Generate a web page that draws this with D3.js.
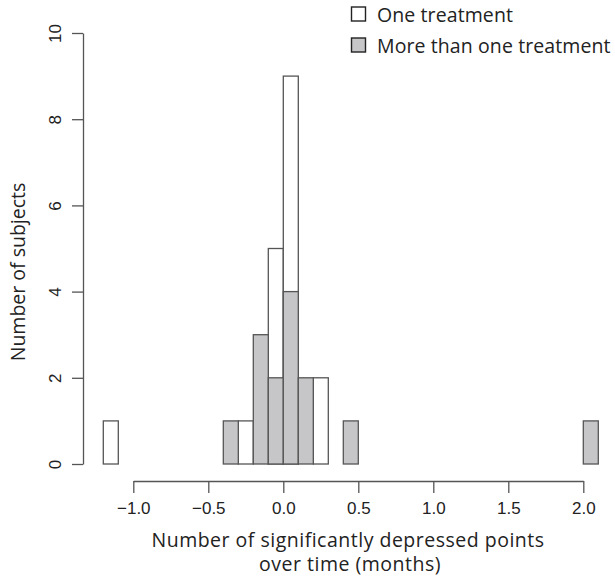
<!DOCTYPE html>
<html><head><meta charset="utf-8">
<script src="https://cdn.jsdelivr.net/npm/d3@7"></script>
<style>body{margin:0;background:#fff}svg{display:block}</style>
</head><body>
<script>
// Bin lower edges (width 0.1), counts per series
const binStarts = d3.range(33).map(i => Math.round((-1.2 + i*0.1)*10)/10);
const oneTreatment = [1,0,0,0,0,0,0,0,0,1,0,5,9,0,2,0,0,0,0,0,0,0,0,0,0,0,0,0,0,0,0,0,0];
const moreTreatment = [0,0,0,0,0,0,0,0,1,0,3,2,4,2,0,0,1,0,0,0,0,0,0,0,0,0,0,0,0,0,0,0,1];
const binWidth = 0.1;
const xTicks = [-1.0,-0.5,0.0,0.5,1.0,1.5,2.0];
const yTicks = [0,2,4,6,8,10];
const legendLabels = ["One treatment","More than one treatment"];

const W=615,H=576;
const svg=d3.select("body").append("svg").attr("width",W).attr("height",H);
const x=d3.scaleLinear().domain([-1,2]).range([133.3,583.3]);
const y=d3.scaleLinear().domain([0,10]).range([464,33]);
const stroke="#555", grayFill="#c6c6c9";
const labelFont="'Open Sans', 'Noto Sans', sans-serif";
const tickFont="'Liberation Sans', Arial, sans-serif";
const labelSize=19.5, tickSize=17;

function drawHist(vals, fill){
  svg.append("g").selectAll("rect").data(binStarts.map((b,i)=>({b,v:vals[i]}))).join("rect")
    .attr("x",d=>x(d.b)).attr("width",d=>x(d.b+binWidth)-x(d.b))
    .attr("y",d=>y(d.v)).attr("height",d=>y(0)-y(d.v))
    .attr("fill",fill).attr("stroke",stroke).attr("stroke-width",1.3);
}
drawHist(oneTreatment,"#fff");
drawHist(moreTreatment,grayFill);

// X axis
const xa=svg.append("g").attr("transform","translate(0,481)")
  .call(d3.axisBottom(x).tickValues(xTicks).tickSize(12).tickSizeOuter(0).tickFormat(d=>d3.format(".1f")(d).replace("-","\u2212")));
xa.select(".domain").attr("stroke",stroke).attr("stroke-width",1.3);
xa.selectAll(".tick line").attr("stroke",stroke).attr("stroke-width",1.3);
xa.selectAll(".tick text").attr("font-family",tickFont).attr("font-size",tickSize).attr("fill","#222")
  .attr("dy",0).attr("y",33);

// Y axis
const ya=svg.append("g").attr("transform","translate(83,0)")
  .call(d3.axisLeft(y).tickValues(yTicks).tickSize(11).tickSizeOuter(0));
ya.select(".domain").attr("stroke",stroke).attr("stroke-width",1.3);
ya.selectAll(".tick line").attr("stroke",stroke).attr("stroke-width",1.3);
ya.selectAll(".tick text").attr("font-family",tickFont).attr("font-size",tickSize).attr("fill","#222")
  .attr("x",0).attr("dy",0).attr("text-anchor","middle").attr("dominant-baseline","middle")
  .attr("transform","translate(-26,0) rotate(-90)");

// Axis labels
svg.append("text").attr("x",348).attr("y",547).attr("text-anchor","middle")
  .attr("font-family",labelFont).attr("font-size",labelSize).attr("letter-spacing",0.5).attr("fill","#222").text("Number of significantly depressed points");
svg.append("text").attr("x",350).attr("y",571).attr("text-anchor","middle")
  .attr("font-family",labelFont).attr("font-size",labelSize).attr("letter-spacing",0.5).attr("fill","#222").text("over time (months)");
svg.append("text").attr("transform","translate(25,272) rotate(-90)").attr("text-anchor","middle")
  .attr("font-family",labelFont).attr("font-size",labelSize).attr("fill","#222").text("Number of subjects");

// Legend
const lg=svg.append("g");
legendLabels.forEach((t,i)=>{
  const cy=14+i*31;
  lg.append("rect").attr("x",351.5).attr("y",cy-7).attr("width",14).attr("height",14)
    .attr("fill",i===0?"#fff":grayFill).attr("stroke","#222").attr("stroke-width",1.4);
  lg.append("text").attr("x",377).attr("y",cy).attr("dominant-baseline","central")
    .attr("font-family",labelFont).attr("font-size",labelSize).attr("letter-spacing",0.1).attr("fill","#222").text(t);
});
</script>
</body></html>
